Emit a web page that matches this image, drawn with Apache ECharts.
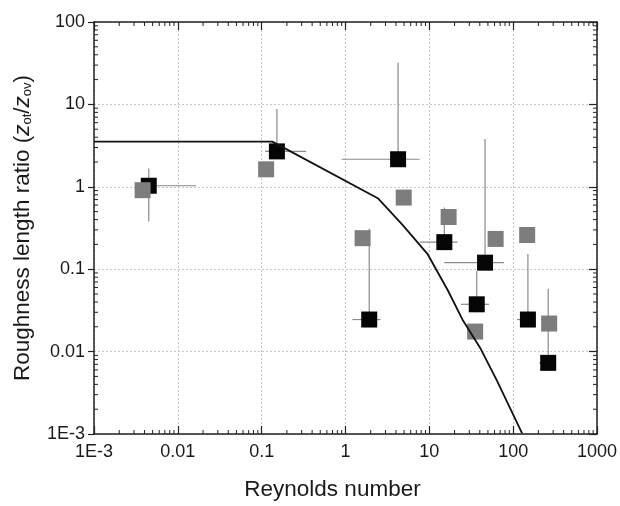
<!DOCTYPE html>
<html>
<head>
<meta charset="utf-8">
<script src="https://cdn.jsdelivr.net/npm/echarts@6/dist/echarts.min.js"></script>
<style>html,body{margin:0;padding:0;background:#fff;}#c{width:620px;height:506px;}</style>
</head>
<body>
<div id="c"></div>
<script>
// ---- data ----
const xTickValues = [0.001, 0.01, 0.1, 1, 10, 100, 1000];
const xTickLabels = ['1E-3', '0.01', '0.1', '1', '10', '100', '1000'];
const yTickValues = [0.001, 0.01, 0.1, 1, 10, 100];
const yTickLabels = ['1E-3', '0.01', '0.1', '1', '10', '100'];

const blackX = [0.0045, 0.152, 1.92, 4.24, 15.1, 36.8, 46.2, 150, 262];
const blackY = [1.03, 2.69, 0.0245, 2.16, 0.213, 0.0375, 0.120, 0.0245, 0.0073];
const blackYLow = [0.38, 2.2, 0.0245, 1.8, 0.18, 0.03, 0.10, 0.02, 0.0065];
const blackYHigh = [1.67, 8.77, 0.31, 32.1, 0.56, 0.095, 3.79, 0.153, 0.058];
const blackXLow = [0.0035, 0.11, 1.21, 0.90, 7.7, 23.8, 15.1, 111, 205];
const blackXHigh = [0.0166, 0.339, 2.62, 7.65, 21.7, 51.5, 77.6, 170, 280];

const grayX = [0.0038, 0.113, 1.60, 4.95, 17.0, 35.2, 61.8, 147, 269];
const grayY = [0.91, 1.63, 0.238, 0.74, 0.43, 0.0175, 0.233, 0.26, 0.0219];

const modelX = [0.001, 0.134, 2.46, 4.85, 9.6, 16.6, 24.9, 41, 64.7, 128];
const modelY = [3.53, 3.53, 0.72, 0.341, 0.151, 0.0555, 0.0244, 0.0108, 0.00435, 0.00102];

const xMin = 0.001, xMax = 1000, yMin = 0.001, yMax = 100;

// ---- helpers ----
function labelFor(values, labels) {
  return function (v) {
    const e = Math.round(Math.log10(v));
    for (let i = 0; i < values.length; i++) {
      if (Math.round(Math.log10(values[i])) === e) return labels[i];
    }
    return '';
  };
}
const zip = (a, b) => a.map((v, i) => [v, b[i]]);
const errData = blackX.map((x, i) => [x, blackY[i], blackXLow[i], blackXHigh[i], blackYLow[i], blackYHigh[i]]);

const FONT = '"Liberation Sans", Arial, sans-serif';
const AXIS_COLOR = '#222';

const chart = echarts.init(document.getElementById('c'), null, { renderer: 'canvas' });

const baseAxis = {
  type: 'log', logBase: 10,
  axisLine: { show: true, onZero: false, lineStyle: { color: AXIS_COLOR, width: 1.5 } },
  minorTick: { show: false },
  minorSplitLine: { show: false }
};

chart.setOption({
  animation: false,
  backgroundColor: '#fff',
  grid: { left: 94, right: 19, top: 22, bottom: 62, containLabel: false },
  xAxis: [
    Object.assign({}, baseAxis, {
      min: xMin, max: xMax, position: 'bottom',
      axisTick: { show: true, inside: true, length: 8, lineStyle: { color: AXIS_COLOR, width: 1.2 } },
      axisLabel: { show: true, margin: 9, color: '#1a1a1a', fontSize: 18, fontFamily: FONT,
        formatter: labelFor(xTickValues, xTickLabels), showMinLabel: true, showMaxLabel: true },
      splitLine: { show: true, lineStyle: { color: '#c8c8c8', width: 1, type: [2, 2] } },
      name: 'Reynolds number', nameLocation: 'middle', nameGap: 44,
      nameTextStyle: { fontSize: 22.5, fontFamily: FONT, color: '#1a1a1a', padding: [0, 26, 0, 0] }
    }),
    Object.assign({}, baseAxis, {
      min: xMin, max: xMax, position: 'top',
      axisTick: { show: true, inside: true, length: 8, lineStyle: { color: AXIS_COLOR, width: 1.2 } },
      axisLabel: { show: false }, splitLine: { show: false }
    })
  ],
  yAxis: [
    Object.assign({}, baseAxis, {
      min: yMin, max: yMax, position: 'left',
      axisTick: { show: true, inside: false, length: 6, lineStyle: { color: AXIS_COLOR, width: 1.2 } },
      axisLabel: { show: true, margin: 9, color: '#1a1a1a', fontSize: 18, fontFamily: FONT,
        formatter: labelFor(yTickValues, yTickLabels), showMinLabel: true, showMaxLabel: true },
      splitLine: { show: true, lineStyle: { color: '#c8c8c8', width: 1, type: [2, 2] } },
      name: 'Roughness length ratio ({it|z}{sub|ot}/{it|z}{sub|ov})',
      nameLocation: 'middle', nameGap: 60, nameRotate: 90,
      nameTextStyle: {
        fontSize: 22.5, fontFamily: FONT, color: '#1a1a1a',
        rich: {
          it: { fontSize: 22.5, fontStyle: 'italic', fontFamily: FONT, color: '#1a1a1a' },
          sub: { fontSize: 13, fontFamily: FONT, color: '#1a1a1a', verticalAlign: 'bottom' }
        }
      }
    }),
    Object.assign({}, baseAxis, {
      min: yMin, max: yMax, position: 'right',
      axisTick: { show: true, inside: true, length: 8, lineStyle: { color: AXIS_COLOR, width: 1.2 } },
      axisLabel: { show: false }, splitLine: { show: false }
    })
  ],
  series: [
    {
      name: 'minorTicks', type: 'custom', silent: true, z: 3,
      xAxisIndex: 0, yAxisIndex: 0,
      data: [[1, 1]],
      renderItem: function (params, api) {
        const children = [];
        const style = { stroke: AXIS_COLOR, lineWidth: 1 };
        for (let k = -3; k <= 2; k++) {
          for (let m = 2; m <= 9; m++) {
            const v = m * Math.pow(10, k);
            const b = api.coord([v, yMin]);
            const t = api.coord([v, yMax]);
            children.push({ type: 'line', shape: { x1: b[0], y1: b[1], x2: b[0], y2: b[1] - 4 }, style: style });
            children.push({ type: 'line', shape: { x1: t[0], y1: t[1], x2: t[0], y2: t[1] + 4 }, style: style });
          }
        }
        for (let k = -3; k <= 1; k++) {
          for (let m = 2; m <= 9; m++) {
            const v = m * Math.pow(10, k);
            const l = api.coord([xMin, v]);
            const r = api.coord([xMax, v]);
            children.push({ type: 'line', shape: { x1: l[0], y1: l[1], x2: l[0] + 4, y2: l[1] }, style: style });
            children.push({ type: 'line', shape: { x1: r[0], y1: r[1], x2: r[0] - 4, y2: r[1] }, style: style });
          }
        }
        return { type: 'group', children: children };
      }
    },
    {
      name: 'errors', type: 'custom', silent: true, z: 4,
      xAxisIndex: 0, yAxisIndex: 0,
      encode: { x: 0, y: 1 },
      data: errData,
      renderItem: function (params, api) {
        const x = api.value(0), y = api.value(1);
        const pxl = api.coord([api.value(2), y]);
        const pxh = api.coord([api.value(3), y]);
        const pyl = api.coord([x, api.value(4)]);
        const pyh = api.coord([x, api.value(5)]);
        const style = { stroke: '#8a8a8a', lineWidth: 1.2 };
        return {
          type: 'group', children: [
            { type: 'line', shape: { x1: pxl[0], y1: pxl[1], x2: pxh[0], y2: pxh[1] }, style: style },
            { type: 'line', shape: { x1: pyl[0], y1: pyl[1], x2: pyh[0], y2: pyh[1] }, style: style }
          ]
        };
      }
    },
    {
      name: 'black', type: 'scatter', z: 5,
      symbol: 'rect', symbolSize: 16,
      itemStyle: { color: '#050505', opacity: 1 },
      data: zip(blackX, blackY)
    },
    {
      name: 'gray', type: 'scatter', z: 6,
      symbol: 'rect', symbolSize: 16,
      itemStyle: { color: '#7d7d7d', opacity: 1 },
      data: zip(grayX, grayY)
    },
    {
      name: 'model', type: 'line', z: 7,
      showSymbol: false, symbol: 'none', clip: true,
      lineStyle: { color: '#111', width: 1.8 },
      data: zip(modelX, modelY)
    }
  ]
});
</script>
</body>
</html>
